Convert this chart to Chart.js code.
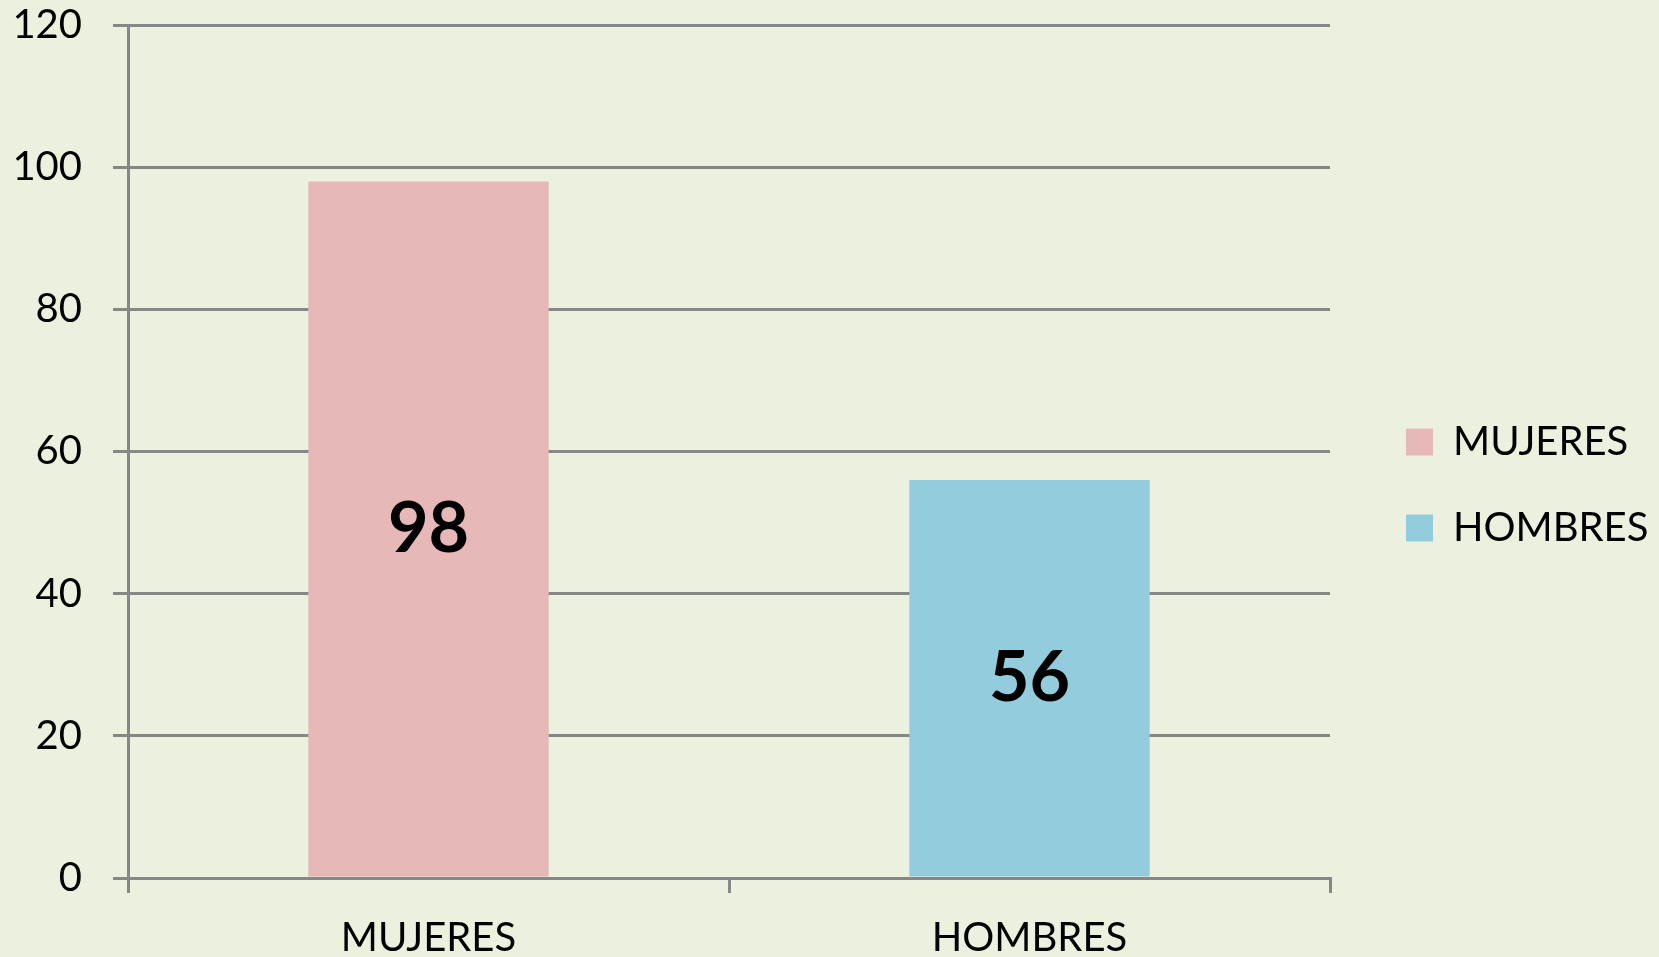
<!DOCTYPE html>
<html>
<head>
<meta charset="utf-8">
<script src="https://cdn.jsdelivr.net/npm/chart.js@4/dist/chart.umd.min.js"></script>
<style>
  html, body { margin: 0; padding: 0; background: #EBF1DE; }
  #wrap { width: 1659px; height: 957px; position: relative; }
</style>
</head>
<body>
<div id="wrap"><canvas id="c"></canvas></div>
<script>
// ---- data ----
const categories = ['MUJERES', 'HOMBRES'];
const seriesNames = ['MUJERES', 'HOMBRES'];
const mujeresValues = [98, null];
const hombresValues = [null, 56];
const yTickValues = [0, 20, 40, 60, 80, 100, 120];

// ---- style ----
const seriesColors = ['#E6B8B7', '#93CDDD'];
const axisColor = '#878787';
const bgColor = '#EBF1DE';
const FONT = 'Lato';
const LEGEND_WIDTH = 329;
const LEGEND_DX = 30;
const LEGEND_DY = -6;

const bgPlugin = {
  id: 'bg',
  beforeDraw(chart) {
    const ctx = chart.ctx;
    ctx.save();
    ctx.fillStyle = bgColor;
    ctx.fillRect(0, 0, chart.width, chart.height);
    ctx.restore();
  }
};

const legendAdjust = {
  id: 'legendAdjust',
  afterInit(chart) {
    const lg = chart.legend;
    if (!lg) return;
    const origFit = lg.fit.bind(lg);
    lg.fit = function () { origFit(); this.width = LEGEND_WIDTH; };
    const origDraw = lg.draw.bind(lg);
    lg.draw = function (...args) {
      const ctx = this.ctx;
      ctx.save();
      ctx.translate(LEGEND_DX, LEGEND_DY);
      origDraw(...args);
      ctx.restore();
    };
  }
};

const valueLabels = {
  id: 'valueLabels',
  afterDatasetsDraw(chart) {
    const ctx = chart.ctx;
    ctx.save();
    ctx.font = 'bold 70px ' + FONT;
    ctx.fillStyle = '#000';
    ctx.textAlign = 'center';
    ctx.textBaseline = 'middle';
    chart.data.datasets.forEach((ds, di) => {
      const meta = chart.getDatasetMeta(di);
      meta.data.forEach((bar, i) => {
        const v = ds.data[i];
        if (v === null || v === undefined) return;
        const p = bar.getProps(['x', 'y', 'base'], true);
        ctx.fillText(String(v), p.x, (p.y + p.base) / 2);
      });
    });
    ctx.restore();
  }
};

new Chart(document.getElementById('c'), {
  type: 'bar',
  data: {
    labels: categories,
    datasets: [
      { label: seriesNames[0], data: mujeresValues, backgroundColor: seriesColors[0], borderWidth: 0 },
      { label: seriesNames[1], data: hombresValues, backgroundColor: seriesColors[1], borderWidth: 0 }
    ]
  },
  options: {
    responsive: true,
    maintainAspectRatio: false,
    animation: false,
    skipNull: true,
    categoryPercentage: 0.8,
    barPercentage: 0.5,
    layout: { padding: { top: 25, left: 0, right: 0, bottom: 0 } },
    scales: {
      x: {
        grid: { display: true, drawOnChartArea: false, drawTicks: true, tickLength: 15, color: axisColor, lineWidth: 3, offset: true },
        border: { display: true, color: axisColor, width: 3 },
        ticks: { font: { family: FONT, size: 40 }, color: '#000', padding: 21 },
        afterFit(s) { s.height = 79; }
      },
      y: {
        min: 0, max: 120,
        afterBuildTicks(s) { s.ticks = yTickValues.map(v => ({ value: v })); },
        ticks: { font: { family: FONT, size: 40 }, color: '#000', padding: 31 },
        grid: { color: axisColor, lineWidth: 3, tickLength: 15 },
        border: { display: true, color: axisColor, width: 3 },
        afterFit(s) { s.width = 128; s.paddingTop = 0; s.paddingBottom = 0; }
      }
    },
    plugins: {
      legend: {
        position: 'right',
        labels: { boxWidth: 27, boxHeight: 27, padding: 46, font: { family: FONT, size: 40 }, color: '#000' }
      },
      tooltip: { enabled: false }
    }
  },
  plugins: [bgPlugin, legendAdjust, valueLabels]
});
</script>
</body>
</html>
